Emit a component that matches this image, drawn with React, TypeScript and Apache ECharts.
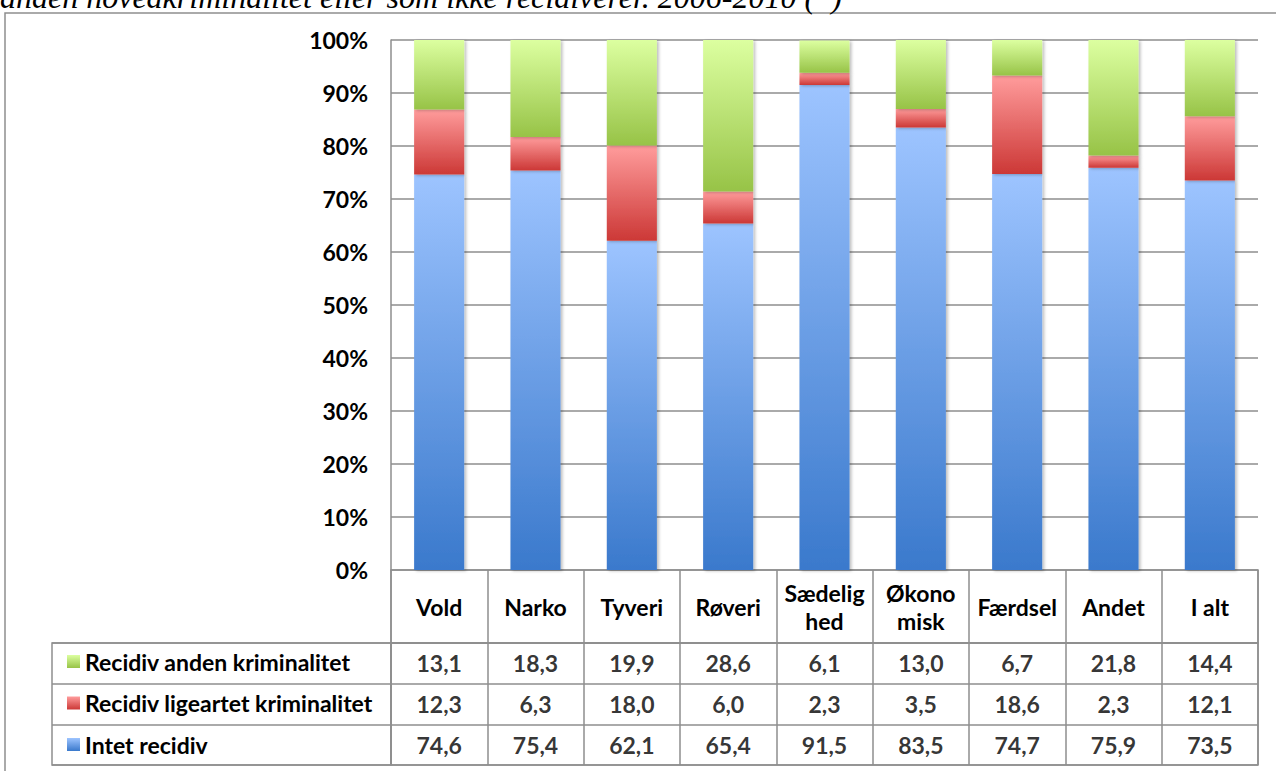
import React, { useEffect, useRef } from 'react';
import * as echarts from 'echarts';

const categories = ['Vold', 'Narko', 'Tyveri', 'Røveri', 'Sædelig\nhed', 'Økono\nmisk', 'Færdsel', 'Andet', 'I alt'];
const seriesNames = ['Intet recidiv', 'Recidiv ligeartet kriminalitet', 'Recidiv anden kriminalitet'];
const intetRecidiv = [74.6, 75.4, 62.1, 65.4, 91.5, 83.5, 74.7, 75.9, 73.5];
const recidivLigeartet = [12.3, 6.3, 18.0, 6.0, 2.3, 3.5, 18.6, 2.3, 12.1];
const recidivAnden = [13.1, 18.3, 19.9, 28.6, 6.1, 13.0, 6.7, 21.8, 14.4];
const yMin = 0;
const yMax = 100;
const yStep = 10;
const titleText = 'anden hovedkriminalitet eller som ikke recidiverer. 2006-2010 (*)';

const seriesValues = [intetRecidiv, recidivLigeartet, recidivAnden];
const gradients = [
  ['#9dc4ff', '#3a79cc'],
  ['#ff9c9c', '#cc3836'],
  ['#dcffa0', '#97c347'],
];

const FONT = 'Lato, "Open Sans", sans-serif';
const FS = 23;
const GRID_COLOR = '#8e8e8e';

const fmt = (v: number) => v.toFixed(1).replace('.', ',');

export default function App() {
  const ref = useRef<HTMLDivElement>(null);

  useEffect(() => {
    if (!ref.current) return;
    const chart = echarts.init(ref.current, undefined, { renderer: 'svg' });

    const grad = (c: string[]) =>
      new echarts.graphic.LinearGradient(0, 0, 0, 1, [
        { offset: 0, color: c[0] },
        { offset: 1, color: c[1] },
      ]);

    const barSeries = seriesNames.map((name, i) => ({
      name,
      type: 'bar',
      stack: 'total',
      xAxisIndex: 0,
      yAxisIndex: 0,
      barWidth: '52%',
      data: seriesValues[i],
      itemStyle: {
        color: grad(gradients[i]),
        shadowColor: 'rgba(0,0,0,0.25)',
        shadowBlur: 3,
        shadowOffsetX: 2,
        shadowOffsetY: 1,
      },
    }));

    const tableData: any[] = [];
    seriesValues.forEach((vals, r) => {
      vals.forEach((v, c) => tableData.push([c, r, v]));
    });

    const option: any = {
      animation: false,
      backgroundColor: '#ffffff',
      textStyle: { fontFamily: FONT },
      graphic: [
        {
          type: 'rect',
          shape: { x: 5, y: 13, width: 1300, height: 800 },
          style: { fill: 'none', stroke: GRID_COLOR, lineWidth: 1.5 },
          z: 0,
        },
        {
          type: 'text',
          x: 0,
          y: 13,
          style: {
            text: titleText,
            font: 'italic 32px "Liberation Serif", "DejaVu Serif", serif',
            fill: '#000',
            verticalAlign: 'bottom',
            align: 'left',
          },
        },
      ],
      legend: {
        show: true,
        orient: 'vertical',
        left: 62,
        top: 645,
        itemWidth: 13,
        itemHeight: 13,
        itemGap: 18.5,
        icon: 'rect',
        selectedMode: false,
        data: [seriesNames[2], seriesNames[1], seriesNames[0]],
        textStyle: { fontFamily: FONT, fontSize: FS, fontWeight: 'bold', color: '#000', lineHeight: 22 },
      },
      grid: [
        { left: 391, top: 40, width: 867, height: 530 },
        { left: 391, top: 570, width: 867, height: 73, show: true, borderColor: GRID_COLOR, borderWidth: 1.5, backgroundColor: 'transparent' },
        { left: 391, top: 643, width: 867, height: 122, show: true, borderColor: GRID_COLOR, borderWidth: 1.5, backgroundColor: 'transparent' },
        { left: 52, top: 643, width: 339, height: 122, show: true, borderColor: GRID_COLOR, borderWidth: 1.5, backgroundColor: 'transparent' },
      ],
      xAxis: [
        {
          type: 'category', gridIndex: 0, data: categories,
          axisLine: { show: false }, axisTick: { show: false }, axisLabel: { show: false }, splitLine: { show: false },
        },
        {
          type: 'category', gridIndex: 1, data: categories, position: 'bottom',
          axisLine: { show: false }, axisTick: { show: false },
          axisLabel: {
            show: true, inside: true, margin: 36.5, interval: 0, verticalAlign: 'middle',
            fontFamily: FONT, fontSize: FS, fontWeight: 'bold', color: '#000', lineHeight: 28,
          },
          splitLine: { show: true, interval: 0, lineStyle: { color: GRID_COLOR, width: 1.5 } },
        },
        {
          type: 'category', gridIndex: 2, data: categories,
          axisLine: { show: false }, axisTick: { show: false }, axisLabel: { show: false },
          splitLine: { show: true, interval: 0, lineStyle: { color: GRID_COLOR, width: 1.5 } },
        },
        {
          type: 'value', gridIndex: 3, min: 0, max: 1, show: false,
        },
      ],
      yAxis: [
        {
          type: 'value', gridIndex: 0, min: yMin, max: yMax, interval: yStep,
          axisLine: { show: true, lineStyle: { color: GRID_COLOR, width: 1.5 } },
          axisTick: { show: false },
          axisLabel: {
            formatter: '{value}%', margin: 23, fontFamily: FONT, fontSize: FS, fontWeight: 'bold', color: '#000',
          },
          splitLine: { show: true, lineStyle: { color: GRID_COLOR, width: 1.5 } },
        },
        { type: 'value', gridIndex: 1, min: 0, max: 1, show: false },
        {
          type: 'category', gridIndex: 2, data: seriesNames,
          axisLine: { show: false }, axisTick: { show: false }, axisLabel: { show: false },
          splitLine: { show: true, interval: 0, lineStyle: { color: GRID_COLOR, width: 1.5 } },
        },
        {
          type: 'category', gridIndex: 3, data: seriesNames,
          axisLine: { show: false }, axisTick: { show: false }, axisLabel: { show: false },
          splitLine: { show: true, interval: 0, lineStyle: { color: GRID_COLOR, width: 1.5 } },
        },
      ],
      series: [
        ...barSeries,
        {
          name: 'table',
          type: 'scatter',
          xAxisIndex: 2,
          yAxisIndex: 2,
          symbol: 'rect',
          symbolSize: 1,
          itemStyle: { color: 'rgba(0,0,0,0)' },
          data: tableData,
          label: {
            show: true,
            position: 'inside',
            formatter: (p: any) => fmt(p.value[2]),
            fontFamily: FONT,
            fontSize: FS,
            fontWeight: 'bold',
            color: '#000',
          },
          silent: true,
        },
      ],
    };

    chart.setOption(option);
    return () => chart.dispose();
  }, []);

  return (
    <div
      ref={ref}
      style={{ position: 'fixed', left: 0, top: 0, width: 1276, height: 771 }}
    />
  );
}
